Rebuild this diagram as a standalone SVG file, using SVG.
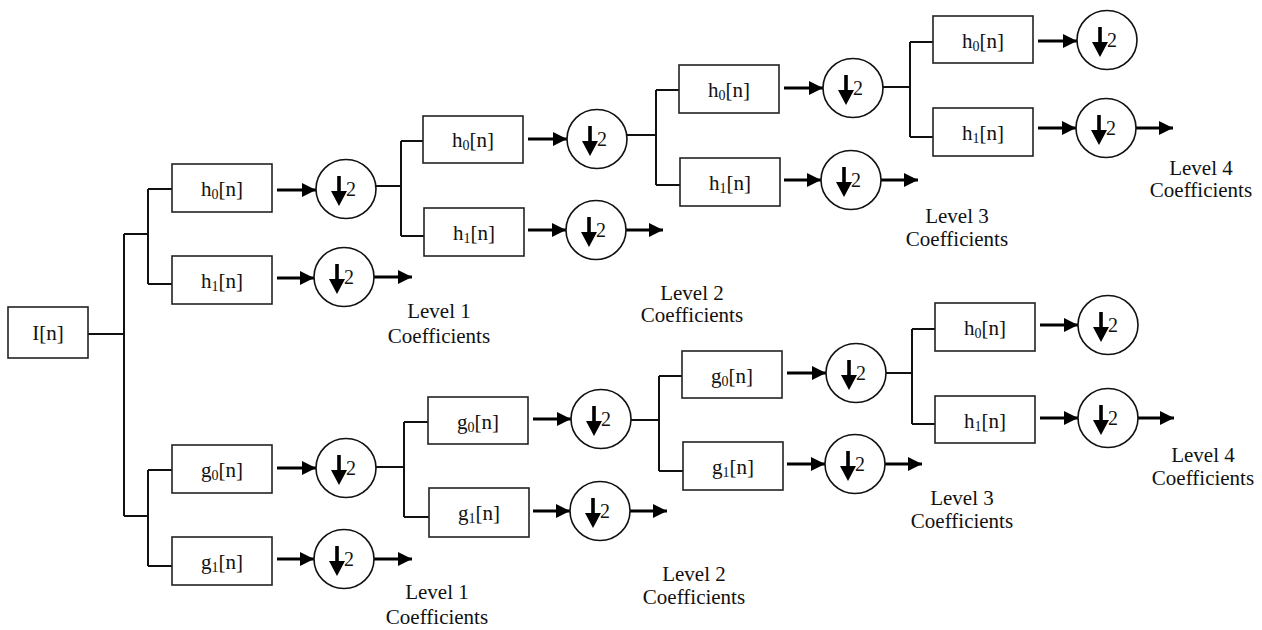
<svg xmlns="http://www.w3.org/2000/svg" xmlns:xlink="http://www.w3.org/1999/xlink" width="1262" height="630" viewBox="0 0 1262 630">
<style>
.box rect{fill:#fff;stroke:#222;stroke-width:1.6}
.box text{font-family:"Liberation Serif","Times New Roman",serif;font-size:21px;fill:#111;text-anchor:middle}
.sub{font-size:14px}
.tree path{fill:none;stroke:#111;stroke-width:2}
.arr path{fill:none;stroke:#000;stroke-width:2.8}
.lbl{font-family:"Liberation Serif","Times New Roman",serif;font-size:21px;fill:#111;text-anchor:middle}
.two{font-family:"Liberation Serif","Times New Roman",serif;font-size:20px;fill:#111}
</style>
<defs>
<marker id="ah" markerUnits="userSpaceOnUse" markerWidth="14" markerHeight="14" refX="14" refY="7" orient="auto">
<path d="M0,0 L14,7 L0,14 z" fill="#000"/>
</marker>
<g id="down2">
<ellipse cx="0" cy="0" rx="30" ry="29.5" fill="#fff" stroke="#111" stroke-width="1.6"/>
<path d="M-7,-13 V4" stroke="#000" stroke-width="3.6" fill="none"/>
<polygon points="-15,2 1,2 -7,17" fill="#000"/>
<text class="two" x="0" y="7">2</text>
</g>
</defs>

<g id="connectors">
<g class="tree">
<path d="M88,334 H124 M124,234 V516 M124,234 H148 M148,189 V284 M148,189 H172 M148,284 H172"/>
<path d="M124,516 H148 M148,470 V566 M148,470 H172 M148,566 H172"/>
<path d="M376,186 H401 M401,141 V236 M401,141 H423 M401,236 H424"/>
<path d="M627,135 H656 M656,90 V185 M656,90 H679 M656,185 H680"/>
<path d="M883,87 H910 M910,42 V137 M910,42 H933 M910,137 H933"/>
<path d="M376,467 H404 M404,422 V517 M404,422 H428 M404,517 H429"/>
<path d="M631,420 H659 M659,376 V471 M659,376 H682 M659,471 H683"/>
<path d="M886,373 H912 M912,329 V424 M912,329 H935 M912,424 H935"/>
</g>
<g class="arr">
<path d="M277,190 H316" marker-end="url(#ah)"/>
<path d="M277,278 H314" marker-end="url(#ah)"/>
<path d="M528,139 H567" marker-end="url(#ah)"/>
<path d="M528,230 H566" marker-end="url(#ah)"/>
<path d="M784,88 H823" marker-end="url(#ah)"/>
<path d="M784,180 H821" marker-end="url(#ah)"/>
<path d="M1038,41 H1077" marker-end="url(#ah)"/>
<path d="M1038,128 H1076" marker-end="url(#ah)"/>
<path d="M277,468 H316" marker-end="url(#ah)"/>
<path d="M277,559 H314" marker-end="url(#ah)"/>
<path d="M533,419 H571" marker-end="url(#ah)"/>
<path d="M533,511 H570" marker-end="url(#ah)"/>
<path d="M787,373 H826" marker-end="url(#ah)"/>
<path d="M787,464 H825" marker-end="url(#ah)"/>
<path d="M1040,325 H1078" marker-end="url(#ah)"/>
<path d="M1040,418 H1078" marker-end="url(#ah)"/>
<path d="M374,277 H412" marker-end="url(#ah)"/>
<path d="M626,230 H663" marker-end="url(#ah)"/>
<path d="M881,180 H918" marker-end="url(#ah)"/>
<path d="M1136,128 H1173" marker-end="url(#ah)"/>
<path d="M374,559 H412" marker-end="url(#ah)"/>
<path d="M630,511 H667" marker-end="url(#ah)"/>
<path d="M885,464 H922" marker-end="url(#ah)"/>
<path d="M1138,418 H1174" marker-end="url(#ah)"/>
</g>
</g>

<g id="in" class="box"><rect x="8" y="307" width="80" height="51"/><text x="48" y="340">I[n]</text></g>

<g id="h0_1" class="box"><rect x="172" y="164" width="100" height="48"/><text x="222" y="196">h<tspan class="sub" dy="3">0</tspan><tspan dy="-3">[n]</tspan></text></g>
<g id="h1_1" class="box"><rect x="172" y="256" width="100" height="48"/><text x="222" y="288">h<tspan class="sub" dy="3">1</tspan><tspan dy="-3">[n]</tspan></text></g>
<g id="d_h0_1"><use xlink:href="#down2" x="346" y="189"/></g>
<g id="d_h1_1"><use xlink:href="#down2" x="344" y="277"/></g>

<g id="h0_2" class="box"><rect x="423" y="116" width="100" height="47"/><text x="473" y="147">h<tspan class="sub" dy="3">0</tspan><tspan dy="-3">[n]</tspan></text></g>
<g id="h1_2" class="box"><rect x="424" y="208" width="100" height="48"/><text x="474" y="240">h<tspan class="sub" dy="3">1</tspan><tspan dy="-3">[n]</tspan></text></g>
<g id="d_h0_2"><use xlink:href="#down2" x="597" y="139"/></g>
<g id="d_h1_2"><use xlink:href="#down2" x="596" y="230"/></g>

<g id="h0_3" class="box"><rect x="679" y="65" width="100" height="48"/><text x="729" y="97">h<tspan class="sub" dy="3">0</tspan><tspan dy="-3">[n]</tspan></text></g>
<g id="h1_3" class="box"><rect x="680" y="158" width="100" height="48"/><text x="730" y="190">h<tspan class="sub" dy="3">1</tspan><tspan dy="-3">[n]</tspan></text></g>
<g id="d_h0_3"><use xlink:href="#down2" x="853" y="88"/></g>
<g id="d_h1_3"><use xlink:href="#down2" x="851" y="180"/></g>

<g id="h0_4" class="box"><rect x="933" y="16" width="100" height="47"/><text x="983" y="48">h<tspan class="sub" dy="3">0</tspan><tspan dy="-3">[n]</tspan></text></g>
<g id="h1_4" class="box"><rect x="933" y="108" width="100" height="48"/><text x="983" y="140">h<tspan class="sub" dy="3">1</tspan><tspan dy="-3">[n]</tspan></text></g>
<g id="d_h0_4"><use xlink:href="#down2" x="1107" y="40"/></g>
<g id="d_h1_4"><use xlink:href="#down2" x="1106" y="128"/></g>

<g id="g0_1" class="box"><rect x="172" y="445" width="100" height="48"/><text x="222" y="477">g<tspan class="sub" dy="3">0</tspan><tspan dy="-3">[n]</tspan></text></g>
<g id="g1_1" class="box"><rect x="172" y="537" width="100" height="48"/><text x="222" y="569">g<tspan class="sub" dy="3">1</tspan><tspan dy="-3">[n]</tspan></text></g>
<g id="d_g0_1"><use xlink:href="#down2" x="346" y="468"/></g>
<g id="d_g1_1"><use xlink:href="#down2" x="344" y="559"/></g>

<g id="g0_2" class="box"><rect x="428" y="397" width="100" height="47"/><text x="478" y="429">g<tspan class="sub" dy="3">0</tspan><tspan dy="-3">[n]</tspan></text></g>
<g id="g1_2" class="box"><rect x="429" y="488" width="100" height="49"/><text x="479" y="520">g<tspan class="sub" dy="3">1</tspan><tspan dy="-3">[n]</tspan></text></g>
<g id="d_g0_2"><use xlink:href="#down2" x="601" y="419"/></g>
<g id="d_g1_2"><use xlink:href="#down2" x="600" y="511"/></g>

<g id="g0_3" class="box"><rect x="682" y="351" width="100" height="47"/><text x="732" y="383">g<tspan class="sub" dy="3">0</tspan><tspan dy="-3">[n]</tspan></text></g>
<g id="g1_3" class="box"><rect x="683" y="442" width="100" height="48"/><text x="733" y="474">g<tspan class="sub" dy="3">1</tspan><tspan dy="-3">[n]</tspan></text></g>
<g id="d_g0_3"><use xlink:href="#down2" x="856" y="373"/></g>
<g id="d_g1_3"><use xlink:href="#down2" x="855" y="464"/></g>

<g id="h0_4b" class="box"><rect x="935" y="303" width="100" height="48"/><text x="985" y="335">h<tspan class="sub" dy="3">0</tspan><tspan dy="-3">[n]</tspan></text></g>
<g id="h1_4b" class="box"><rect x="935" y="396" width="100" height="47"/><text x="985" y="428">h<tspan class="sub" dy="3">1</tspan><tspan dy="-3">[n]</tspan></text></g>
<g id="d_h0_4b"><use xlink:href="#down2" x="1108" y="325"/></g>
<g id="d_h1_4b"><use xlink:href="#down2" x="1108" y="418"/></g>

<g id="labels">
<text class="lbl" x="439" y="318">Level 1</text><text class="lbl" x="439" y="343">Coefficients</text>
<text class="lbl" x="692" y="300">Level 2</text><text class="lbl" x="692" y="322">Coefficients</text>
<text class="lbl" x="957" y="223">Level 3</text><text class="lbl" x="957" y="246">Coefficients</text>
<text class="lbl" x="1201" y="175">Level 4</text><text class="lbl" x="1201" y="197">Coefficients</text>
<text class="lbl" x="437" y="599">Level 1</text><text class="lbl" x="437" y="624">Coefficients</text>
<text class="lbl" x="694" y="581">Level 2</text><text class="lbl" x="694" y="604">Coefficients</text>
<text class="lbl" x="962" y="505">Level 3</text><text class="lbl" x="962" y="528">Coefficients</text>
<text class="lbl" x="1203" y="462">Level 4</text><text class="lbl" x="1203" y="485">Coefficients</text>
</g>
</svg>
